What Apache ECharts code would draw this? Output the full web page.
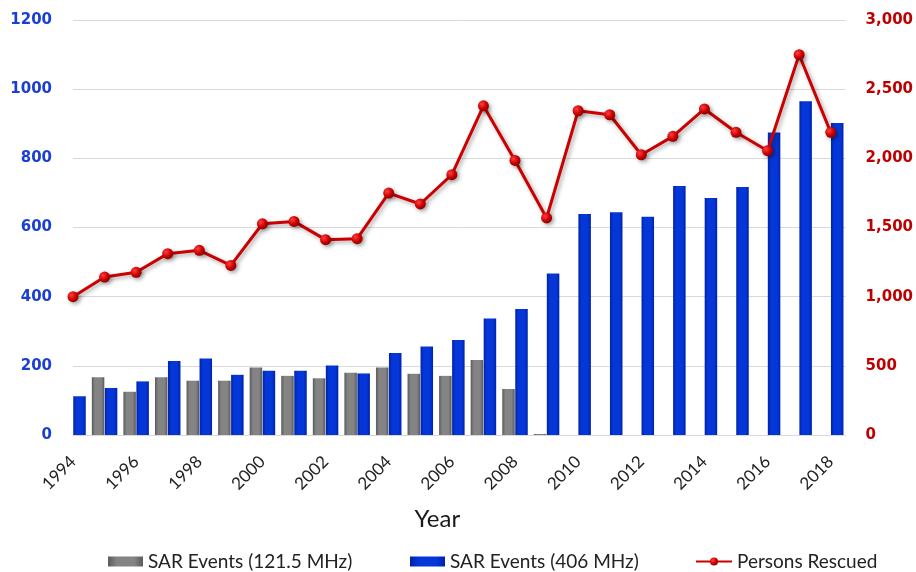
<!DOCTYPE html>
<html>
<head>
<meta charset="utf-8">
<script src="https://cdn.jsdelivr.net/npm/echarts@6/dist/echarts.min.js"></script>
<style>
html,body{margin:0;padding:0;background:#fff;}
#chart{width:916px;height:572px;}
</style>
</head>
<body>
<div id="chart"></div>
<script>
const years = [1994,1995,1996,1997,1998,1999,2000,2001,2002,2003,2004,2005,2006,2007,2008,2009,2010,2011,2012,2013,2014,2015,2016,2017,2018];
const sar121 = [null,167,125,167,157,157,195,171,164,180,195,177,171,217,133,3,null,null,null,null,null,null,null,null,null];
const sar406 = [112,136,155,214,221,174,186,186,201,178,237,256,275,337,364,467,639,644,631,720,685,717,875,965,902];
const rescued = [1000,1142,1176,1311,1335,1226,1527,1544,1412,1419,1749,1670,1882,2380,1985,1569,2344,2315,2026,2159,2357,2188,2055,2749,2188];
const xTicks = {min:1994, max:2018.47, interval:2};
const leftTicks = {min:0, max:1200, interval:200};
const rightTicks = {min:0, max:3000, interval:500};

const pair = arr => years.map((y,i) => [y, arr[i]]);

const chart = echarts.init(document.getElementById('chart'), null, {renderer:'canvas'});
const grayGrad = new echarts.graphic.LinearGradient(0,0,1,0,[
  {offset:0,color:'#5a5a5a'},{offset:0.25,color:'#848484'},{offset:0.75,color:'#848484'},{offset:1,color:'#5a5a5a'}]);
const blueGrad = new echarts.graphic.LinearGradient(0,0,1,0,[
  {offset:0,color:'#0022a8'},{offset:0.25,color:'#0536d8'},{offset:0.75,color:'#0536d8'},{offset:1,color:'#0022a8'}]);
const redDot = new echarts.graphic.RadialGradient(0.35,0.35,0.7,[
  {offset:0,color:'#ff4040'},{offset:0.6,color:'#cc0000'},{offset:1,color:'#8a0000'}]);
const legendText = {fontFamily:'Lato',fontSize:19,color:'#222'};

chart.setOption({
  animation:false,
  grid:{left:73,right:69,top:20,bottom:137},
  legend:[
    {data:[{name:'SAR Events (121.5 MHz)',icon:'rect'}],left:103,top:547,itemWidth:35,itemHeight:10,itemGap:4,textStyle:legendText},
    {data:[{name:'SAR Events (406 MHz)',icon:'rect'}],left:405,top:547,itemWidth:35,itemHeight:10,textStyle:legendText},
    {data:['Persons Rescued'],left:690,top:547,itemWidth:36,itemHeight:10,textStyle:legendText}
  ],
  xAxis:{
    type:'value',min:xTicks.min,max:xTicks.max,interval:xTicks.interval,
    name:'Year',nameLocation:'middle',nameGap:72,
    nameTextStyle:{fontFamily:'Lato',fontSize:24,color:'#1a1a1a',padding:[0,44,0,0]},
    axisLine:{lineStyle:{color:'#d9d9d9',width:1}},
    axisTick:{show:false},
    axisLabel:{rotate:45,margin:24,fontFamily:'Lato',fontSize:17,color:'#222',
      showMaxLabel:false,formatter:v=>String(v)},
    splitLine:{show:false}
  },
  yAxis:[
    {type:'value',min:leftTicks.min,max:leftTicks.max,interval:leftTicks.interval,
     axisLine:{show:false},axisTick:{show:false},
     axisLabel:{margin:21,fontFamily:'DejaVu Sans',fontWeight:'bold',fontSize:15,color:'#1a3fd6',
       formatter:v=>String(v)},
     splitLine:{lineStyle:{color:'#d9d9d9',width:1}}},
    {type:'value',min:rightTicks.min,max:rightTicks.max,interval:rightTicks.interval,
     axisLine:{show:false},axisTick:{show:false},
     axisLabel:{margin:20,fontFamily:'DejaVu Sans',fontWeight:'bold',fontSize:15,color:'#c00000',
       formatter:v=>v.toLocaleString('en-US')},
     splitLine:{show:false}}
  ],
  series:[
    {name:'SAR Events (121.5 MHz)',type:'bar',data:pair(sar121),barWidth:12.5,barGap:'4%',
     itemStyle:{color:grayGrad},z:2},
    {name:'SAR Events (406 MHz)',type:'bar',data:pair(sar406),barWidth:12.5,barGap:'4%',
     itemStyle:{color:blueGrad},z:2},
    {name:'Persons Rescued',type:'line',yAxisIndex:1,data:pair(rescued),
     symbol:'circle',symbolSize:11,
     lineStyle:{color:'#cc0000',width:3,shadowColor:'rgba(0,0,0,0.35)',shadowBlur:4,shadowOffsetX:2,shadowOffsetY:2},
     itemStyle:{color:redDot,borderWidth:0,shadowColor:'rgba(0,0,0,0.35)',shadowBlur:4,shadowOffsetX:2,shadowOffsetY:2},
     z:5}
  ]
});
</script>
</body>
</html>
